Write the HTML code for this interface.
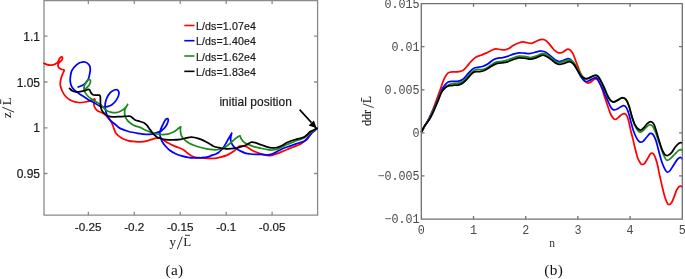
<!DOCTYPE html>
<html><head><meta charset="utf-8"><style>
html,body{margin:0;padding:0;background:#fff;width:685px;height:279px;overflow:hidden}
svg{display:block;will-change:transform;opacity:0.999}
.s{font-family:"Liberation Sans",sans-serif;stroke:#1a1a1a;stroke-width:0.2px}
.m{font-family:"Liberation Mono",monospace}
.r{font-family:"Liberation Serif",serif}
</style></head><body>
<svg width="685" height="279" viewBox="0 0 685 279">
<!-- LEFT AXES -->
<g fill="none" stroke="#8a8a8a" stroke-width="1.3">
<path d="M44,215.2V0.6H317.6V215.2Z"/>
<path d="M88.35,215.2v-3.5M134.3,215.2v-3.5M180.2,215.2v-3.5M226.2,215.2v-3.5M272.1,215.2v-3.5
M88.35,0.6v3.5M134.3,0.6v3.5M180.2,0.6v3.5M226.2,0.6v3.5M272.1,0.6v3.5
M44,36.1h3.5M44,82h3.5M44,127.8h3.5M44,173.5h3.5
M317.6,36.1h-3.5M317.6,82h-3.5M317.6,127.8h-3.5M317.6,173.5h-3.5"/>
</g>
<g class="s" font-size="12" fill="#1a1a1a" text-anchor="end">
<text x="39.9" y="40.5">1.1</text>
<text x="40" y="86.5">1.05</text>
<text x="39.9" y="132.4">1</text>
<text x="40" y="178">0.95</text>
</g>
<g class="s" font-size="11.7" fill="#1a1a1a" text-anchor="middle">
<text x="88.1" y="231">-0.25</text>
<text x="134.3" y="231">-0.2</text>
<text x="180.2" y="231">-0.15</text>
<text x="226.2" y="231">-0.1</text>
<text x="272.1" y="231">-0.05</text>
</g>
<g class="r" font-size="13" fill="#1a1a1a">
<text x="169.6" y="246.4">y</text><text x="183.3" y="246.4">L</text>
<g transform="translate(10.9,118) rotate(-90)"><text x="0" y="0">z</text><text x="12.8" y="0">L</text></g>
</g>
<g stroke="#1a1a1a" fill="none">
<path d="M177.3,249.2L182.3,236.6M185,235.3H190" stroke-width="0.9"/>
<path d="M14.2,112.2L2.3,107.1M0.7,99.4V104" stroke-width="0.9"/>
</g>
<text class="r" font-size="15.3" fill="#111" x="174.5" y="274.9" text-anchor="middle" letter-spacing="0.3">(a)</text>
<text class="r" font-size="15.3" fill="#111" x="553.7" y="274.9" text-anchor="middle" letter-spacing="0.3">(b)</text>

<!--LC-->
<g fill="none" stroke-width="1.75" stroke-linejoin="round" stroke-linecap="round">
<path stroke="#ff0000" d="M44.0,63.3C44.5,63.5 46.0,64.3 47.0,64.6C48.0,64.9 49.0,65.1 50.0,65.1C51.0,65.1 52.1,65.0 53.0,64.8C53.9,64.6 54.5,64.4 55.2,64.0C55.9,63.6 56.8,63.2 57.4,62.6C58.0,62.0 58.2,61.3 58.6,60.6C59.0,59.9 59.1,59.2 59.5,58.6C59.9,58.0 60.3,57.6 60.7,57.3C61.1,57.0 61.4,56.8 61.7,56.9C62.0,57.0 62.4,57.3 62.5,57.7C62.6,58.1 62.5,58.9 62.2,59.5C61.9,60.1 61.1,60.8 60.5,61.4C59.9,62.0 59.2,62.4 58.8,63.0C58.4,63.6 58.1,64.2 58.0,64.8C57.9,65.4 58.0,66.1 58.2,66.7C58.5,67.3 58.9,67.9 59.5,68.3C60.1,68.7 61.0,69.0 61.7,69.3C62.4,69.5 63.2,69.6 63.6,69.8C64.0,70.0 64.2,70.5 64.3,70.6M64.3,70.6C64.1,70.9 63.8,71.2 63.3,72.5C62.8,73.8 61.5,76.4 61.0,78.5C60.5,80.6 60.1,83.1 60.3,85.2C60.5,87.3 61.3,89.1 62.2,91.0C63.1,92.9 64.2,94.9 65.7,96.5C67.2,98.1 69.3,99.8 71.5,100.8C73.7,101.8 76.2,102.3 78.6,102.5C81.0,102.7 83.8,102.2 85.8,101.9C87.8,101.6 89.4,101.0 90.8,100.5C92.2,100.0 93.6,99.2 94.3,99.0C95.0,98.8 94.9,99.4 95.0,99.5M95.0,99.5C94.8,100.0 94.2,101.8 94.0,102.8C93.8,103.8 93.9,104.6 94.1,105.6C94.3,106.5 94.8,107.6 95.4,108.5C96.0,109.4 96.7,110.2 97.9,111.0C99.1,111.8 101.1,112.2 102.5,113.0C103.9,113.8 105.0,114.7 106.1,115.7C107.1,116.7 107.9,117.7 108.8,118.8C109.7,119.9 110.8,121.1 111.5,122.4C112.2,123.7 112.5,124.8 113.2,126.5C113.9,128.2 114.4,131.0 115.8,132.9C117.2,134.8 119.3,136.7 121.5,138.0C123.7,139.3 126.4,140.2 128.7,140.8C130.9,141.4 133.1,141.4 135.0,141.6C136.9,141.8 138.0,142.0 140.0,141.9C142.0,141.8 144.8,141.4 147.2,140.8C149.6,140.2 152.2,139.1 154.3,138.6C156.5,138.1 158.4,137.6 160.1,137.9C161.8,138.2 162.9,139.7 164.3,140.6C165.7,141.5 167.2,142.5 168.6,143.3C170.0,144.1 171.5,144.8 172.9,145.4C174.3,146.0 175.8,146.6 177.2,147.1C178.6,147.6 180.2,148.1 181.5,148.7C182.8,149.3 183.6,150.0 184.7,150.8C185.8,151.6 186.9,152.7 188.0,153.5C189.1,154.3 189.9,155.1 191.2,155.7C192.4,156.3 194.0,157.0 195.5,157.3C197.0,157.7 198.6,157.7 200.0,157.8C201.4,157.9 202.1,158.0 203.7,158.1C205.3,158.2 207.5,158.3 209.4,158.4C211.3,158.5 213.5,158.5 215.0,158.4C216.5,158.3 216.6,158.2 218.6,157.7C220.6,157.1 224.6,156.2 227.2,155.1C229.8,153.9 232.5,152.2 234.4,150.8C236.3,149.4 237.5,147.3 238.7,146.5C239.9,145.7 240.3,145.8 241.5,145.8C242.7,145.8 244.3,145.9 245.8,146.5C247.3,147.1 248.9,148.4 250.7,149.4C252.5,150.4 254.6,151.5 256.5,152.3C258.4,153.1 260.4,153.8 262.2,154.3C263.9,154.8 265.4,155.1 267.0,155.3C268.6,155.5 270.3,155.7 272.0,155.4C273.7,155.1 275.3,154.2 277.0,153.6C278.7,153.0 280.3,152.3 282.0,151.6C283.7,150.9 285.4,150.2 287.1,149.5C288.8,148.8 290.6,148.1 292.1,147.5C293.6,146.9 294.6,146.5 296.0,145.9C297.4,145.3 299.1,144.8 300.3,144.2C301.6,143.5 302.5,142.8 303.5,142.0C304.5,141.2 305.3,140.4 306.2,139.4C307.1,138.4 307.9,137.2 308.9,136.1C309.9,135.0 310.9,133.9 312.3,132.6C313.7,131.3 316.2,129.1 317.0,128.4"/>
<path stroke="#0000ff" d="M78.2,87.0C78.8,86.8 80.8,86.1 82.0,85.5C83.2,84.9 84.5,84.4 85.6,83.2C86.7,82.0 87.8,80.1 88.5,78.5C89.2,76.9 89.4,75.2 89.7,73.8C90.0,72.3 90.3,71.1 90.3,69.8C90.3,68.5 90.2,67.0 89.7,65.9C89.2,64.8 88.2,63.8 87.3,63.1C86.3,62.4 85.1,62.0 84.0,61.9C82.9,61.8 81.5,62.2 80.5,62.5C79.5,62.8 78.9,63.1 77.8,63.9C76.7,64.7 75.0,66.2 73.9,67.5C72.9,68.8 72.1,69.7 71.5,71.4C70.9,73.1 70.5,75.9 70.3,77.7C70.1,79.5 70.2,80.9 70.4,82.3C70.6,83.7 71.0,85.1 71.6,86.3C72.2,87.5 73.0,88.5 74.0,89.6C75.0,90.6 76.0,91.5 77.5,92.6C79.0,93.7 81.1,94.9 82.9,96.1C84.8,97.3 87.0,99.0 88.6,99.9C90.1,100.8 91.0,101.1 92.2,101.7C93.4,102.3 94.6,103.1 95.8,103.8C97.0,104.5 98.1,105.3 99.3,105.9C100.5,106.5 101.7,107.1 103.0,107.2C104.3,107.3 105.6,107.0 107.0,106.6C108.4,106.2 110.1,105.9 111.5,105.0C112.9,104.1 114.4,102.7 115.5,101.3C116.6,99.9 117.6,98.0 118.2,96.5C118.8,95.0 119.1,93.3 118.9,92.2C118.7,91.1 118.0,90.1 117.2,89.7C116.4,89.3 115.5,89.5 114.3,90.0C113.1,90.5 111.2,91.5 110.0,92.9C108.8,94.3 107.6,96.4 106.8,98.2C106.0,100.0 105.5,101.8 105.3,103.5C105.0,105.2 105.0,106.5 105.3,108.5C105.6,110.5 106.1,113.2 107.0,115.2C107.9,117.2 109.3,119.1 110.6,120.6C111.9,122.1 113.4,122.9 115.0,124.2C116.6,125.5 117.8,127.2 120.1,128.4C122.4,129.6 125.4,130.6 128.7,131.5C132.0,132.4 137.2,133.2 140.0,133.7C142.8,134.2 143.8,134.3 145.7,134.4C147.6,134.5 149.7,134.4 151.5,134.1C153.3,133.8 155.2,133.1 156.6,132.7C158.0,132.3 159.0,132.1 160.0,131.6C161.0,131.1 161.6,130.6 162.5,129.8C163.4,129.0 164.5,128.1 165.3,127.0C166.1,125.9 166.9,124.5 167.4,123.3C167.9,122.1 168.3,120.8 168.3,120.0C168.3,119.2 167.8,118.8 167.5,118.6C167.2,118.4 166.7,118.6 166.2,119.0C165.7,119.4 165.1,120.3 164.6,121.2C164.1,122.1 163.5,123.4 162.9,124.6C162.3,125.8 161.7,126.9 161.2,128.1C160.7,129.3 160.2,130.8 160.0,132.0C159.8,133.2 159.7,134.0 159.9,135.2C160.1,136.4 160.8,138.1 161.2,139.2C161.6,140.3 161.7,140.9 162.4,142.0C163.1,143.1 164.2,144.6 165.4,146.0C166.6,147.4 168.1,149.1 169.7,150.3C171.3,151.6 173.1,152.6 175.1,153.5C177.1,154.4 179.3,155.3 181.5,155.9C183.7,156.5 185.8,157.0 188.0,157.3C190.2,157.6 192.2,157.8 194.4,157.9C196.6,158.0 198.7,158.0 201.0,157.8C203.3,157.6 206.1,157.4 208.0,156.9C209.9,156.4 211.1,155.6 212.3,155.1C213.6,154.6 214.5,154.6 215.5,154.2C216.5,153.8 217.4,153.4 218.5,152.5C219.6,151.6 221.1,150.4 222.3,149.0C223.5,147.6 224.5,145.7 225.5,144.1C226.5,142.5 227.4,140.7 228.2,139.3C229.0,137.9 229.8,136.5 230.4,135.5C231.0,134.5 231.5,133.6 231.7,133.2M231.7,133.2C231.6,133.8 231.1,135.5 230.9,136.6C230.7,137.7 230.6,138.7 230.7,139.8C230.8,140.9 231.0,142.0 231.5,143.1C232.0,144.2 232.7,145.3 233.6,146.3C234.5,147.3 235.6,148.2 236.8,149.0C238.0,149.8 239.1,150.4 240.6,151.1C242.1,151.8 244.3,152.8 246.0,153.3C247.7,153.8 248.9,153.8 250.7,154.0C252.4,154.2 254.6,154.3 256.5,154.4C258.4,154.5 260.2,154.3 262.0,154.4C263.8,154.5 265.3,155.1 267.0,155.0C268.7,154.9 270.3,154.7 272.0,154.1C273.7,153.5 275.3,152.4 277.0,151.6C278.7,150.8 280.3,149.8 282.0,149.0C283.7,148.2 285.4,147.6 287.1,147.0C288.8,146.4 290.6,145.8 292.1,145.3C293.6,144.8 294.6,144.4 296.0,143.9C297.4,143.4 298.9,143.1 300.3,142.6C301.7,142.1 303.4,141.7 304.6,141.0C305.9,140.3 306.9,139.3 307.8,138.3C308.7,137.3 309.3,136.1 310.0,135.1C310.7,134.1 311.3,133.2 312.1,132.4C312.9,131.6 314.0,131.2 314.8,130.5C315.6,129.8 316.6,128.8 317.0,128.4"/>
<path stroke="#1c8c1c" d="M85.0,89.0C85.4,88.7 86.6,87.9 87.4,87.1C88.2,86.3 89.1,85.4 89.6,84.4C90.1,83.4 90.5,81.8 90.5,81.0C90.5,80.2 90.0,79.7 89.6,79.5C89.2,79.3 88.7,79.5 88.1,79.9C87.5,80.4 86.7,81.2 86.1,82.2C85.5,83.2 84.8,84.6 84.4,85.8C84.1,87.0 83.8,88.1 84.0,89.3C84.2,90.5 84.7,91.7 85.4,92.9C86.1,94.1 87.2,95.4 88.3,96.5C89.4,97.6 91.0,98.6 92.2,99.5C93.5,100.4 94.6,101.0 95.8,101.7C97.0,102.4 98.2,103.0 99.3,103.8C100.4,104.5 101.1,105.1 102.2,106.2C103.3,107.3 104.7,109.3 106.1,110.3C107.5,111.3 109.0,111.7 110.6,112.1C112.2,112.5 114.3,112.8 115.9,112.6C117.5,112.4 119.1,111.8 120.4,111.2C121.8,110.6 123.0,109.8 124.0,109.0C125.0,108.2 125.9,107.0 126.5,106.2C127.1,105.5 127.4,104.8 127.6,104.5M127.6,104.5C127.2,105.2 125.7,107.5 125.2,108.8C124.7,110.1 124.6,111.2 124.6,112.6C124.6,114.0 124.9,115.7 125.4,117.0C125.9,118.3 126.6,119.5 127.6,120.6C128.6,121.7 130.1,123.0 131.2,123.8C132.3,124.6 132.9,125.0 134.4,125.6C135.9,126.2 137.9,126.5 140.0,127.4C142.1,128.3 144.8,129.8 147.2,130.8C149.6,131.8 151.9,132.9 154.3,133.5C156.7,134.1 159.1,134.4 161.5,134.5C163.9,134.6 166.5,134.3 168.7,133.8C170.8,133.3 172.8,132.3 174.4,131.5C176.0,130.7 176.9,129.6 178.0,128.8C179.1,128.0 180.2,127.1 180.7,126.8M180.7,126.8C180.6,127.5 180.3,129.3 180.4,130.8C180.5,132.3 180.7,134.2 181.5,135.8C182.3,137.4 183.7,138.9 185.0,140.1C186.3,141.3 187.7,142.3 189.3,143.2C190.9,144.1 192.6,144.8 194.5,145.5C196.4,146.2 198.7,146.9 200.8,147.5C202.9,148.1 205.0,148.5 207.0,148.9C209.0,149.3 211.1,149.6 213.0,149.7C214.9,149.8 216.9,149.8 218.6,149.5C220.3,149.2 221.6,148.8 223.0,148.2C224.4,147.6 225.5,147.0 227.2,145.8C228.8,144.6 231.2,142.2 232.9,140.8C234.6,139.4 236.0,138.0 237.2,137.2C238.4,136.4 239.6,136.0 240.1,135.8M240.1,135.8C240.3,136.4 240.8,138.2 241.5,139.3C242.2,140.4 243.2,141.7 244.4,142.6C245.6,143.5 247.3,144.0 248.6,144.6C249.9,145.2 250.8,145.6 252.2,146.1C253.6,146.6 255.4,147.0 257.0,147.4C258.6,147.8 260.3,148.2 262.0,148.5C263.7,148.8 265.3,149.2 267.0,149.5C268.7,149.8 270.3,150.1 272.0,150.0C273.7,149.9 275.3,149.7 277.0,149.2C278.7,148.7 280.3,147.8 282.0,147.0C283.7,146.2 285.4,145.2 287.1,144.5C288.8,143.8 290.6,143.1 292.1,142.5C293.6,141.9 294.6,141.3 296.0,140.8C297.4,140.3 298.9,140.0 300.3,139.5C301.7,139.0 303.4,138.4 304.6,137.7C305.9,137.0 306.8,136.0 307.8,135.1C308.8,134.2 309.5,133.2 310.5,132.4C311.5,131.7 312.6,131.3 313.7,130.6C314.8,129.9 316.4,128.8 317.0,128.4"/>
<path stroke="#000000" d="M69.5,88.4C70.0,88.8 71.2,90.1 72.2,90.7C73.2,91.3 74.5,91.7 75.8,91.8C77.1,91.9 78.7,91.8 80.2,91.6C81.7,91.4 83.4,91.1 84.7,90.7C86.0,90.3 87.2,89.4 88.0,89.3C88.8,89.2 89.2,89.4 89.7,90.0C90.2,90.6 90.5,92.0 91.0,92.8C91.5,93.6 92.0,94.3 92.9,94.7C93.8,95.1 95.4,95.1 96.5,95.2C97.6,95.3 98.7,95.0 99.3,95.2C99.9,95.4 100.1,95.7 100.3,96.5C100.5,97.3 100.4,98.5 100.4,100.0C100.5,101.5 100.4,103.8 100.6,105.4C100.8,107.1 101.0,108.6 101.6,109.9C102.2,111.2 103.2,112.5 104.3,113.5C105.3,114.5 106.4,115.4 107.9,116.0C109.4,116.6 111.1,116.8 113.2,116.9C115.3,117.0 118.0,116.7 120.4,116.6C122.8,116.5 125.9,116.1 127.6,116.1C129.2,116.0 129.4,115.9 130.3,116.3C131.2,116.7 132.1,117.6 133.0,118.3C133.9,119.0 134.5,119.7 135.7,120.2C136.9,120.7 138.6,121.0 140.0,121.5C141.4,122.0 143.1,122.2 144.3,122.9C145.5,123.6 146.2,124.5 147.2,125.6C148.1,126.7 148.9,128.2 150.0,129.6C151.1,131.0 152.4,132.9 153.6,134.2C154.8,135.5 155.9,136.4 157.2,137.2C158.5,138.0 160.1,138.4 161.5,138.8C162.9,139.2 163.9,139.4 165.8,139.6C167.7,139.8 170.5,139.9 173.0,139.8C175.5,139.8 178.4,139.6 180.7,139.3C182.9,139.0 184.7,138.2 186.5,137.9C188.3,137.6 189.6,137.1 191.5,137.2C193.4,137.3 195.9,137.8 197.9,138.4C199.9,139.0 201.8,139.7 203.7,140.6C205.6,141.5 207.8,142.9 209.4,143.8C211.0,144.7 212.0,145.6 213.5,146.2C215.0,146.8 216.8,147.2 218.6,147.6C220.4,148.0 222.4,148.4 224.5,148.6C226.6,148.8 228.8,148.8 230.9,148.7C233.1,148.6 235.4,148.3 237.4,147.9C239.4,147.5 241.4,146.8 242.8,146.3C244.2,145.8 245.1,145.4 246.0,145.0C246.9,144.6 247.6,144.1 248.5,143.6C249.4,143.1 250.4,142.4 251.5,142.2C252.6,142.0 253.8,142.3 255.0,142.6C256.2,142.9 257.3,143.4 258.5,143.8C259.7,144.2 260.6,144.5 262.0,145.0C263.4,145.5 265.3,146.3 267.0,146.8C268.7,147.3 270.3,147.7 272.0,147.8C273.7,147.9 275.3,147.9 277.0,147.5C278.7,147.1 280.3,146.3 282.0,145.5C283.7,144.7 285.4,143.3 287.1,142.5C288.8,141.7 290.6,141.0 292.1,140.5C293.6,140.0 294.6,139.8 296.0,139.4C297.4,139.0 298.9,138.8 300.3,138.3C301.7,137.9 303.4,137.3 304.6,136.7C305.8,136.1 306.4,135.3 307.3,134.5C308.2,133.7 309.0,132.5 310.0,131.8C311.0,131.1 312.0,130.8 313.2,130.2C314.4,129.6 316.4,128.7 317.0,128.4"/>
</g>
<!--/LC-->
<!-- legend -->
<g stroke-width="1.6">
<path d="M184.3,25.5h10.2" stroke="#ff0000"/>
<path d="M184.3,40.7h10.2" stroke="#0000ff"/>
<path d="M184.3,56.0h10.2" stroke="#1c8c1c"/>
<path d="M184.3,71.35h10.2" stroke="#000"/>
</g>
<g class="s" font-size="10.6" fill="#1a1a1a" letter-spacing="0.12">
<text x="196" y="30.2">L/ds=1.07e4</text>
<text x="196" y="45.4">L/ds=1.40e4</text>
<text x="196" y="60.6">L/ds=1.62e4</text>
<text x="196" y="75.9">L/ds=1.83e4</text>
</g>
<text class="s" font-size="11.9" fill="#1a1a1a" x="219.4" y="105.6" letter-spacing="0.07" stroke="#1a1a1a" stroke-width="0.25">initial position</text>
<path d="M299.6,109.6L311.5,122.6" stroke="#000" stroke-width="1.6"/>
<path d="M316.7,128.3L308.6,125.4L313.9,120.5Z" fill="#000"/>

<!-- RIGHT AXES -->
<!--RC-->
<g fill="none" stroke-width="1.75" stroke-linejoin="round" stroke-linecap="round">
<path stroke="#ff0000" d="M421.6,131.6C422.2,130.6 423.8,127.7 425.0,125.5C426.2,123.3 427.7,121.2 429.0,118.5C430.3,115.8 431.8,112.4 433.0,109.3C434.2,106.2 435.3,103.3 436.5,100.0C437.7,96.7 439.2,92.6 440.3,89.5C441.4,86.4 442.1,83.7 443.1,81.3C444.1,78.9 445.2,76.6 446.3,75.1C447.4,73.6 448.1,72.8 449.4,72.3C450.6,71.8 452.2,72.0 453.8,71.9C455.4,71.8 457.2,72.0 458.8,71.7C460.4,71.4 461.8,71.2 463.2,70.3C464.6,69.4 465.8,67.7 467.0,66.3C468.2,64.9 469.4,63.3 470.7,61.9C471.9,60.5 473.4,59.0 474.5,58.1C475.6,57.2 476.5,56.8 477.6,56.3C478.7,55.8 479.4,55.9 480.9,55.3C482.4,54.7 484.8,53.8 486.7,52.9C488.6,52.0 490.8,50.7 492.4,50.0C493.9,49.3 494.7,49.0 496.0,48.9C497.3,48.8 498.9,49.3 500.3,49.5C501.7,49.7 503.2,50.1 504.6,49.9C506.0,49.7 507.5,49.2 508.9,48.5C510.3,47.8 511.6,46.5 513.2,45.6C514.8,44.7 517.0,43.6 518.6,43.0C520.2,42.4 521.5,41.9 522.9,41.9C524.3,41.9 525.8,42.5 527.2,42.7C528.6,42.9 530.1,43.5 531.5,43.3C532.9,43.1 534.5,42.1 535.8,41.5C537.1,40.9 538.3,40.2 539.4,39.9C540.5,39.5 541.5,39.3 542.6,39.4C543.7,39.5 544.8,39.9 545.8,40.5C546.8,41.1 547.7,42.2 548.7,43.3C549.7,44.4 550.6,45.7 551.6,46.9C552.6,48.1 553.5,49.4 554.6,50.4C555.7,51.4 557.0,52.6 558.4,52.9C559.8,53.2 561.3,52.8 562.7,52.2C564.1,51.6 565.8,49.8 567.0,49.4C568.2,49.0 568.8,49.1 569.8,49.8C570.8,50.5 571.9,51.8 572.9,53.6C573.9,55.4 574.8,58.3 575.7,60.8C576.7,63.3 577.7,66.2 578.6,68.5C579.5,70.8 580.4,73.0 581.2,74.8C582.0,76.6 582.7,77.9 583.6,79.2C584.5,80.5 585.7,82.3 586.8,82.8C587.9,83.3 588.8,83.0 590.1,82.4C591.4,81.8 593.2,79.7 594.4,79.2C595.5,78.7 596.2,78.7 597.0,79.2C597.8,79.7 598.4,80.5 599.3,82.2C600.2,83.9 601.2,86.7 602.2,89.3C603.2,91.9 604.0,95.0 605.0,97.9C606.0,100.8 606.9,103.7 607.9,106.5C608.9,109.3 609.8,112.5 610.8,114.5C611.8,116.5 612.8,117.8 613.6,118.6C614.4,119.4 615.0,119.5 615.8,119.3C616.6,119.1 617.5,118.0 618.6,117.2C619.7,116.4 621.1,114.8 622.2,114.3C623.3,113.8 624.3,113.5 625.1,113.9C625.9,114.3 626.6,115.1 627.2,116.5C627.8,117.9 628.3,119.8 628.9,122.2C629.5,124.6 630.1,127.9 630.8,130.8C631.5,133.7 632.3,136.6 633.0,139.4C633.7,142.2 634.1,144.6 634.9,147.7C635.7,150.8 636.8,155.4 637.7,158.0C638.7,160.6 639.8,162.3 640.6,163.4C641.4,164.5 641.6,164.4 642.3,164.4C642.9,164.4 643.7,164.4 644.5,163.6C645.3,162.8 646.2,160.9 647.2,159.3C648.2,157.7 649.5,155.0 650.3,154.0C651.1,153.0 651.5,153.0 652.2,153.2C652.9,153.4 653.6,153.6 654.4,155.3C655.2,157.0 656.2,159.8 657.1,163.2C658.0,166.6 658.9,171.7 659.7,175.5C660.5,179.3 661.3,182.7 662.1,186.1C662.9,189.5 663.7,193.1 664.5,195.8C665.3,198.5 666.1,200.8 666.9,202.3C667.6,203.8 668.2,204.7 669.0,204.7C669.8,204.7 670.9,203.7 671.8,202.3C672.7,201.0 673.4,198.6 674.2,196.6C675.0,194.6 675.8,191.9 676.6,190.2C677.4,188.5 678.3,187.3 679.0,186.6C679.7,185.9 680.5,186.0 681.0,186.1C681.5,186.2 682.1,186.8 682.3,186.9"/>
<path stroke="#0000ff" d="M421.6,131.6C422.2,130.5 423.8,127.4 425.0,125.3C426.2,123.2 427.7,121.5 429.0,119.0C430.3,116.5 431.5,113.8 433.0,110.5C434.5,107.2 436.6,102.4 437.9,99.5C439.1,96.6 439.7,94.8 440.5,93.0C441.3,91.2 441.8,89.8 442.5,88.5C443.2,87.2 444.1,86.2 445.0,85.1C445.9,84.0 446.9,82.6 448.2,82.0C449.4,81.4 450.9,81.4 452.5,81.3C454.1,81.2 455.9,81.6 457.6,81.3C459.3,81.0 461.2,80.4 462.6,79.5C464.1,78.6 465.1,77.1 466.3,75.7C467.6,74.3 468.8,72.5 470.1,71.3C471.4,70.0 472.6,68.9 473.9,68.2C475.1,67.5 476.2,67.6 477.6,67.3C479.0,67.0 480.6,67.1 482.4,66.5C484.1,65.9 486.2,64.9 488.1,63.7C490.0,62.5 492.2,60.3 493.8,59.4C495.4,58.5 496.7,58.4 498.0,58.1C499.3,57.8 500.1,58.1 501.7,57.8C503.3,57.5 505.6,57.0 507.5,56.4C509.4,55.8 511.3,54.8 513.2,54.2C515.1,53.6 517.0,53.0 518.9,52.8C520.8,52.6 523.0,53.1 524.7,53.2C526.4,53.4 527.3,53.9 529.3,53.7C531.3,53.5 534.5,52.4 536.5,51.9C538.5,51.4 540.0,50.9 541.5,51.0C543.0,51.1 544.2,51.4 545.8,52.3C547.4,53.2 549.6,55.2 551.2,56.5C552.8,57.8 554.1,59.3 555.5,60.1C556.9,60.9 558.4,61.5 559.8,61.5C561.2,61.5 562.7,60.6 564.1,60.1C565.5,59.6 567.1,58.6 568.4,58.7C569.7,58.8 570.8,59.5 572.0,60.8C573.2,62.1 574.4,64.1 575.7,66.5C577.0,68.9 578.8,72.9 580.0,75.1C581.2,77.3 582.0,78.4 583.0,79.5C584.0,80.6 584.6,81.6 585.8,81.7C587.0,81.8 588.7,80.7 590.1,80.1C591.5,79.5 593.2,78.2 594.4,77.9C595.5,77.6 596.1,77.5 597.0,78.4C597.9,79.3 598.7,81.4 599.7,83.3C600.7,85.2 602.1,87.8 603.0,89.7C603.9,91.7 604.3,93.2 605.1,95.0C605.9,96.8 607.0,98.8 607.9,100.8C608.8,102.8 609.8,105.8 610.8,107.3C611.8,108.8 612.6,109.5 613.6,109.8C614.6,110.1 615.4,109.7 616.5,109.3C617.6,108.9 618.9,107.8 620.1,107.2C621.3,106.6 622.6,105.6 623.7,105.7C624.8,105.8 625.7,106.6 626.5,107.9C627.3,109.2 628.0,111.3 628.7,113.6C629.4,115.9 630.1,118.9 630.8,121.5C631.5,124.1 632.2,126.9 633.0,129.4C633.8,131.9 634.9,134.6 635.8,136.5C636.7,138.4 637.5,139.7 638.3,140.6C639.1,141.5 639.8,142.2 640.7,142.2C641.6,142.2 642.5,141.8 643.6,140.8C644.7,139.9 646.1,137.7 647.2,136.5C648.3,135.3 649.2,133.8 650.1,133.4C651.0,133.1 652.0,133.3 652.9,134.4C653.8,135.5 654.9,137.8 655.8,140.1C656.7,142.4 657.2,145.3 658.1,148.5C659.0,151.7 660.0,156.3 661.0,159.4C662.0,162.5 662.9,165.0 663.9,167.1C664.9,169.2 665.8,171.2 666.8,171.9C667.8,172.6 668.6,172.1 669.7,171.0C670.8,169.9 672.2,167.1 673.5,165.2C674.8,163.3 676.3,160.7 677.4,159.4C678.5,158.1 679.5,157.5 680.3,157.4C681.1,157.3 682.0,158.7 682.3,159.0"/>
<path stroke="#1c8c1c" d="M421.6,131.6C422.2,130.6 423.8,127.6 425.0,125.6C426.2,123.6 427.7,121.9 429.0,119.5C430.3,117.1 431.5,114.3 433.0,111.0C434.5,107.7 436.6,103.0 438.0,99.8C439.4,96.6 440.2,93.9 441.5,91.8C442.8,89.7 444.3,88.5 445.6,87.3C446.9,86.1 448.0,85.1 449.4,84.5C450.8,83.9 452.2,83.8 453.8,83.6C455.4,83.4 457.2,83.6 458.8,83.2C460.4,82.8 461.8,82.3 463.2,81.3C464.6,80.3 465.8,78.6 467.0,77.3C468.2,76.0 469.4,74.4 470.7,73.2C471.9,72.0 473.4,70.9 474.5,70.3C475.6,69.7 476.5,69.5 477.6,69.4C478.7,69.3 479.7,69.7 481.0,69.6C482.3,69.5 483.5,69.5 485.2,68.7C486.9,68.0 489.2,66.2 491.0,65.1C492.8,64.0 494.2,62.7 496.0,62.1C497.8,61.5 499.8,61.8 501.7,61.4C503.6,61.0 505.6,60.6 507.5,60.0C509.4,59.4 511.3,58.4 513.2,57.8C515.1,57.1 517.0,56.3 518.9,56.1C520.8,55.9 522.8,56.2 524.7,56.4C526.6,56.6 528.5,57.5 530.4,57.5C532.3,57.5 534.0,56.8 536.0,56.1C538.0,55.4 540.8,53.6 542.6,53.4C544.4,53.2 545.6,54.2 547.0,55.0C548.4,55.8 549.8,56.9 551.2,58.0C552.6,59.1 554.1,60.7 555.5,61.5C556.9,62.3 558.4,62.8 559.8,62.7C561.2,62.7 562.6,61.6 564.0,61.2C565.4,60.8 567.1,60.2 568.4,60.1C569.6,60.0 570.5,60.0 571.5,60.5C572.5,61.0 573.1,61.5 574.3,63.2C575.5,64.9 577.2,68.5 578.6,70.8C580.0,73.1 581.5,75.5 582.9,76.8C584.3,78.1 585.8,78.6 587.2,78.6C588.6,78.6 590.1,77.5 591.5,76.9C592.9,76.3 594.6,75.3 595.8,75.2C597.0,75.1 597.7,75.7 598.5,76.5C599.3,77.3 599.9,78.6 600.8,80.3C601.7,82.0 603.0,84.6 604.0,86.8C605.0,89.0 606.0,91.8 606.8,93.5C607.5,95.2 607.8,95.8 608.5,97.0C609.2,98.2 609.9,99.6 610.8,100.4C611.6,101.2 612.4,101.9 613.6,101.8C614.8,101.7 616.5,100.5 617.9,99.8C619.3,99.1 620.9,97.7 622.2,97.6C623.5,97.5 624.7,98.0 625.8,99.3C626.9,100.6 627.9,103.3 628.7,105.3C629.5,107.3 629.9,109.3 630.5,111.5C631.1,113.7 631.8,116.3 632.5,118.5C633.2,120.7 633.7,122.8 634.6,124.8C635.5,126.8 636.9,129.4 637.9,130.6C638.9,131.8 639.8,132.3 640.7,132.2C641.7,132.1 642.5,131.1 643.6,130.1C644.7,129.1 646.1,127.1 647.2,126.2C648.3,125.3 649.2,124.7 650.1,124.7C651.0,124.8 652.0,125.1 652.9,126.5C653.8,127.9 654.8,130.4 655.8,132.9C656.8,135.4 657.8,138.8 658.7,141.5C659.7,144.2 660.7,147.1 661.5,149.4C662.3,151.7 662.8,153.4 663.7,155.2C664.6,157.0 665.6,159.8 666.8,160.3C667.9,160.8 669.3,159.4 670.6,158.4C671.9,157.4 673.2,155.8 674.5,154.5C675.8,153.2 677.3,151.4 678.4,150.6C679.5,149.8 680.6,149.7 681.3,149.7C681.9,149.7 682.1,150.3 682.3,150.4"/>
<path stroke="#000000" d="M421.6,131.6C422.2,130.5 423.9,127.1 425.2,125.1C426.5,123.1 428.1,121.8 429.5,119.4C430.9,117.0 432.4,113.9 433.8,110.8C435.2,107.7 436.8,103.8 438.1,100.7C439.4,97.6 440.3,94.5 441.5,92.3C442.7,90.1 443.8,88.9 445.1,87.8C446.4,86.7 447.8,86.1 449.4,85.7C450.9,85.3 452.8,85.3 454.4,85.2C456.0,85.1 457.3,85.3 458.8,84.9C460.3,84.5 461.8,83.7 463.2,82.7C464.6,81.7 465.8,80.4 467.0,79.1C468.2,77.8 469.4,76.0 470.7,74.8C471.9,73.6 473.0,72.4 474.5,71.9C476.0,71.4 477.8,71.9 479.5,71.6C481.2,71.3 483.1,71.0 485.0,70.2C486.9,69.4 489.2,67.6 491.0,66.5C492.8,65.4 494.2,64.4 496.0,63.8C497.8,63.2 499.8,63.3 501.7,63.0C503.6,62.7 505.6,62.4 507.5,61.8C509.4,61.2 511.3,60.2 513.2,59.5C515.1,58.8 517.0,58.0 518.9,57.8C520.8,57.6 522.8,58.0 524.7,58.2C526.6,58.4 528.5,59.3 530.4,59.2C532.3,59.1 534.0,58.5 536.0,57.8C538.0,57.1 540.8,55.3 542.6,55.1C544.4,54.9 545.6,56.0 547.0,56.7C548.4,57.5 549.8,58.6 551.2,59.6C552.6,60.6 554.1,62.2 555.5,63.0C556.9,63.8 558.4,64.4 559.8,64.4C561.2,64.5 562.6,63.7 564.0,63.3C565.4,62.9 567.2,62.0 568.4,61.8C569.6,61.6 570.2,61.8 571.2,62.3C572.2,62.8 573.1,63.6 574.3,65.1C575.5,66.6 577.0,69.6 578.2,71.5C579.4,73.4 580.2,75.1 581.5,76.3C582.8,77.5 584.4,78.6 585.8,78.8C587.2,79.0 588.7,78.0 590.1,77.4C591.5,76.9 593.1,75.7 594.4,75.5C595.6,75.3 596.5,75.4 597.6,76.3C598.7,77.2 599.7,79.2 600.8,81.1C601.9,83.0 603.0,85.4 604.0,87.6C605.0,89.8 606.0,92.3 606.7,94.0C607.5,95.7 607.8,96.6 608.5,97.7C609.2,98.8 609.9,100.0 610.8,100.8C611.6,101.5 612.4,102.3 613.6,102.2C614.8,102.1 616.5,100.8 617.9,100.1C619.3,99.4 620.9,98.0 622.2,97.9C623.5,97.8 624.7,98.2 625.8,99.4C626.9,100.6 628.0,103.2 628.7,105.1C629.5,107.0 629.7,108.6 630.3,110.7C630.9,112.8 631.6,115.8 632.3,117.9C633.0,120.1 633.7,122.0 634.4,123.6C635.1,125.1 635.9,126.2 636.6,127.2C637.3,128.2 638.0,128.8 638.7,129.3C639.4,129.8 639.9,130.3 640.7,130.1C641.5,129.9 642.5,129.0 643.6,127.9C644.7,126.8 646.0,124.7 647.2,123.6C648.4,122.5 649.7,121.5 650.8,121.5C651.9,121.5 652.8,122.3 653.6,123.6C654.4,124.9 655.1,127.2 655.8,129.3C656.5,131.5 657.2,134.1 657.9,136.5C658.6,138.9 659.4,141.5 660.1,143.7C660.8,145.9 661.4,148.1 662.2,149.9C663.0,151.7 663.9,153.6 664.8,154.5C665.7,155.4 666.6,155.8 667.7,155.5C668.8,155.2 670.3,154.0 671.6,152.6C672.9,151.2 674.2,148.4 675.5,146.8C676.8,145.2 678.3,143.6 679.4,142.9C680.5,142.2 681.8,142.9 682.3,142.9"/>
</g>
<!--/RC-->
<g fill="none" stroke="#6f6f6f" stroke-width="1.3">
<path d="M421.3,219.1V3.6H682.3V219.1Z"/>
<path d="M473.5,219.1v-3.2M525.7,219.1v-3.2M577.9,219.1v-3.2M630.1,219.1v-3.2
M473.5,3.6v3.2M525.7,3.6v3.2M577.9,3.6v3.2M630.1,3.6v3.2
M421.3,46.7h3.2M421.3,89.8h3.2M421.3,132.8h3.2M421.3,175.9h3.2
M682.3,46.7h-3.2M682.3,89.8h-3.2M682.3,132.8h-3.2M682.3,175.9h-3.2"/>
</g>
<g class="m" font-size="12.2" fill="#4a4a4a" text-anchor="end" transform="scale(0.96,1)">
<text x="437.08" y="8.0">0.015</text>
<text x="437.08" y="50.8">0.01</text>
<text x="437.08" y="93.8">0.005</text>
<text x="437.08" y="136.8">0</text>
<text x="437.08" y="179.9">&#8722;0.005</text>
<text x="437.08" y="223.0">&#8722;0.01</text>
</g>
<g class="m" font-size="12.2" fill="#4a4a4a" text-anchor="middle" transform="scale(0.96,1)">
<text x="438.85" y="233.9">0</text>
<text x="493.23" y="233.9">1</text>
<text x="547.60" y="233.9">2</text>
<text x="601.98" y="233.9">3</text>
<text x="656.35" y="233.9">4</text>
<text x="710.73" y="233.9">5</text>
</g>
<text class="r" font-size="11.5" fill="#333" x="552" y="247.2" text-anchor="middle">n</text>
<g class="r" font-size="12" fill="#222" stroke="#222" stroke-width="0.15" transform="translate(371.3,125.7) rotate(-90)"><text x="-0.2" y="0">d</text><text x="5.7" y="0">d</text><text x="11.7" y="0">r</text><text x="22.6" y="0" font-size="11.5">L</text></g>
<path d="M373.7,107.6L363,103.9M361.5,97.6V101.6" stroke="#222" stroke-width="0.85" fill="none"/>
</svg>
</body></html>
